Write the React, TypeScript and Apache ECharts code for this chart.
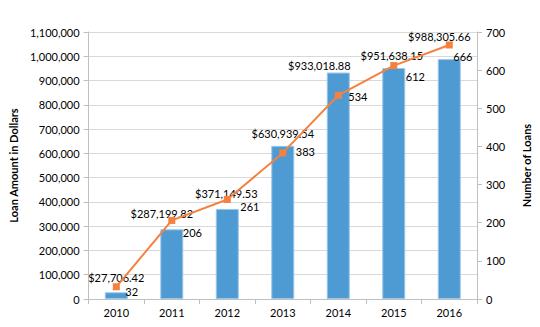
import React, { useEffect, useRef } from "react";
import * as echarts from "echarts";

const years = ["2010", "2011", "2012", "2013", "2014", "2015", "2016"];
const loanAmounts = [27706.42, 287199.82, 371149.53, 630939.54, 933018.88, 951638.15, 988305.66];
const loanCounts = [32, 206, 261, 383, 534, 612, 666];

// label nudges (style only)
const barLabelOffsets: [number, number][] = [
  [0, -4], [-10, -5], [-1, -5], [0, -2], [-19, 3], [-2, -2], [-10, -12],
];
const lineLabelOffsets: [number, number][] = [
  [0.5, 5], [2.5, 12], [4.5, 7], [4.5, -1], [1.5, 1], [3.5, 11], [-4.5, 12],
];

const FONT = "Lato, 'Open Sans', sans-serif";

const fmtMoney = (v: number) =>
  "$" + v.toLocaleString("en-US", { minimumFractionDigits: 2, maximumFractionDigits: 2 });

export default function App() {
  const ref = useRef<HTMLDivElement>(null);
  useEffect(() => {
    if (!ref.current) return;
    const chart = echarts.init(ref.current, undefined, { renderer: "svg" });
    chart.setOption({
      animation: false,
      textStyle: { fontFamily: FONT },
      grid: { left: 79, right: 55, top: 32, bottom: 28, containLabel: false },
      xAxis: {
        type: "category",
        data: years,
        boundaryGap: true,
        axisLine: { lineStyle: { color: "#bfbfbf" } },
        axisTick: { show: true, alignWithLabel: false, length: 5, lineStyle: { color: "#bfbfbf" } },
        axisLabel: { color: "#000", fontSize: 11, fontFamily: FONT, margin: 8 },
      },
      yAxis: [
        {
          type: "value",
          min: 0,
          max: 1100000,
          interval: 100000,
          name: "Loan Amount in Dollars",
          nameLocation: "middle",
          nameGap: 66,
          nameRotate: 90,
          nameTextStyle: { color: "#000", fontSize: 11, fontWeight: "bold", fontFamily: FONT },
          axisLine: { show: true, lineStyle: { color: "#bfbfbf" } },
          axisTick: { show: true, length: 5, lineStyle: { color: "#bfbfbf" } },
          axisLabel: {
            color: "#000",
            fontSize: 11,
            fontFamily: FONT,
            margin: 9,
            formatter: (v: number) => v.toLocaleString("en-US"),
          },
          splitLine: { show: true, lineStyle: { color: "#d9d9d9" } },
        },
        {
          type: "value",
          min: 0,
          max: 700,
          interval: 100,
          name: "Number of Loans",
          nameLocation: "middle",
          nameGap: 44,
          nameRotate: 90,
          nameTextStyle: { color: "#000", fontSize: 11, fontWeight: "bold", fontFamily: FONT },
          axisLine: { show: true, lineStyle: { color: "#bfbfbf" } },
          axisTick: { show: true, length: 5, lineStyle: { color: "#bfbfbf" } },
          axisLabel: { color: "#000", fontSize: 11, fontFamily: FONT, margin: 9 },
          splitLine: { show: false },
        },
      ],
      series: [
        {
          type: "bar",
          yAxisIndex: 0,
          barWidth: 23,
          data: loanAmounts.map((v, i) => ({
            value: v,
            label: { offset: barLabelOffsets[i] },
          })),
          itemStyle: { color: "#4e9bd4", borderColor: "#9cc6ea", borderWidth: 1 },
          label: {
            show: true,
            position: "top",
            color: "#000",
            fontSize: 11,
            fontFamily: FONT,
            formatter: (p: any) => fmtMoney(p.value),
          },
          z: 2,
        },
        {
          type: "line",
          yAxisIndex: 1,
          data: loanCounts.map((v, i) => ({
            value: v,
            label: { offset: lineLabelOffsets[i] },
          })),
          symbol: "rect",
          symbolSize: 7,
          lineStyle: { color: "#f5813f", width: 2 },
          itemStyle: { color: "#f5813f" },
          label: {
            show: true,
            position: "right",
            distance: 5,
            color: "#000",
            fontSize: 11,
            fontFamily: FONT,
          },
          z: 3,
        },
      ],
    });
    return () => chart.dispose();
  }, []);
  return <div ref={ref} style={{ width: 540, height: 327, position: "absolute", left: 0, top: 0 }} />;
}
